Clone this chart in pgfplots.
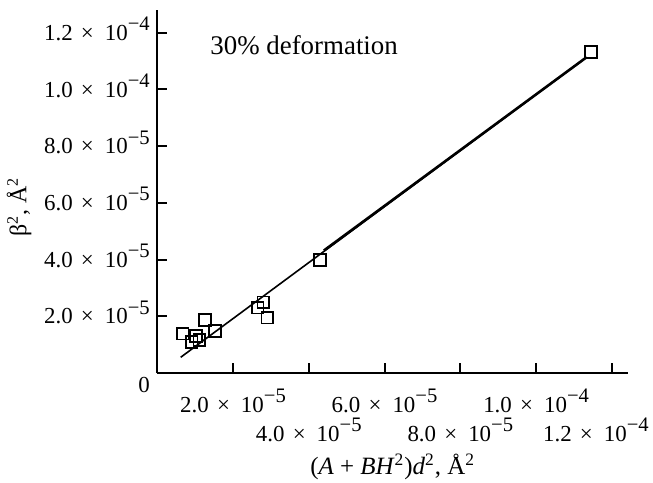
\documentclass[border=0pt]{standalone}
\usepackage{pgfplots}
\pgfplotsset{compat=1.18}
\usepackage{graphicx}
\usepackage{fontspec}
\setmainfont{Liberation Serif}
\newcommand{\sci}[2]{#1\hspace{0.36em}×\hspace{0.48em}10\raisebox{0.42em}{\scalebox{0.9}{−#2}}}
\begin{document}
\begin{tikzpicture}
\path[use as bounding box] (-78.6bp,-55bp) rectangle (247.9bp,186.5bp);
\begin{axis}[
  scale only axis, width=235.5bp, height=181.5bp,
  xmin=0, xmax=1.243e-4, ymin=0, ymax=1.28e-4,
  scaled ticks=false,
  axis x line*=bottom, axis y line*=left,
  axis line style={line width=1bp, black},
  tick align=inside, major tick length=5bp,
  tick style={line width=1bp, black},
  minor tick num=0,
  xtick={2e-5,6e-5,1e-4},
  xticklabels={\sci{2.0}{5},\sci{6.0}{5},\sci{1.0}{4}},
  extra x ticks={4e-5,8e-5,1.2e-4},
  extra x tick labels={\sci{4.0}{5},\sci{8.0}{5},\hspace*{-16bp}\sci{1.2}{4}},
  extra x tick style={grid=none, xticklabel style={yshift=-14.5bp}},
  xticklabel style={font=\fontsize{11.5}{13}\selectfont, inner sep=0pt, anchor=north, yshift=-8bp},
  ytick={0,2e-5,4e-5,6e-5,8e-5,1e-4,1.2e-4},
  yticklabels={\raisebox{-6bp}{0},\sci{2.0}{5},\sci{4.0}{5},\sci{6.0}{5},\sci{8.0}{5},\sci{1.0}{4},\sci{1.2}{4}},
  yticklabel style={font=\fontsize{11.5}{13}\selectfont, inner sep=0pt, anchor=base east, xshift=-3.5bp, yshift=-3.8bp},
  xlabel={(\textit{A} + \textit{BH}\textsuperscript{2})\textit{d}\textsuperscript{2}, Å\textsuperscript{2}},
  xlabel style={font=\fontsize{12.5}{14}\selectfont, at={(axis description cs:0.5,-0.258)}, anchor=center},
  ylabel={β\textsuperscript{2}, Å\textsuperscript{2}},
  ylabel style={font=\fontsize{12}{14}\selectfont, at={(axis description cs:-0.293,0.457)}, anchor=center},
  clip=false,
]
% fitted line
\addplot[black, line width=0.8bp, no marks] coordinates {(0.620e-5,0.554e-5) (11.332e-5,11.135e-5)};
\addplot[black, line width=1.3bp, no marks] coordinates {(4.40e-5,4.32e-5) (11.332e-5,11.135e-5)};
% data
\addplot[only marks, mark=square, mark size=2.9bp, mark options={line width=0.8bp, black, fill=none}] coordinates {
(0.675e-5,1.386e-5)
(0.910e-5,1.093e-5)
(1.024e-5,1.305e-5)
(1.111e-5,1.164e-5)
(1.261e-5,1.869e-5)
(1.525e-5,1.481e-5)
(2.652e-5,2.303e-5)
(2.799e-5,2.494e-5)
(2.905e-5,1.950e-5)
(4.295e-5,3.986e-5)
(11.446e-5,11.322e-5)
};
\node[anchor=base west, font=\fontsize{13.5}{16}\selectfont, inner sep=0pt] at (axis cs:1.393e-5,11.22e-5) {30\% deformation};
\end{axis}
\end{tikzpicture}
\end{document}
